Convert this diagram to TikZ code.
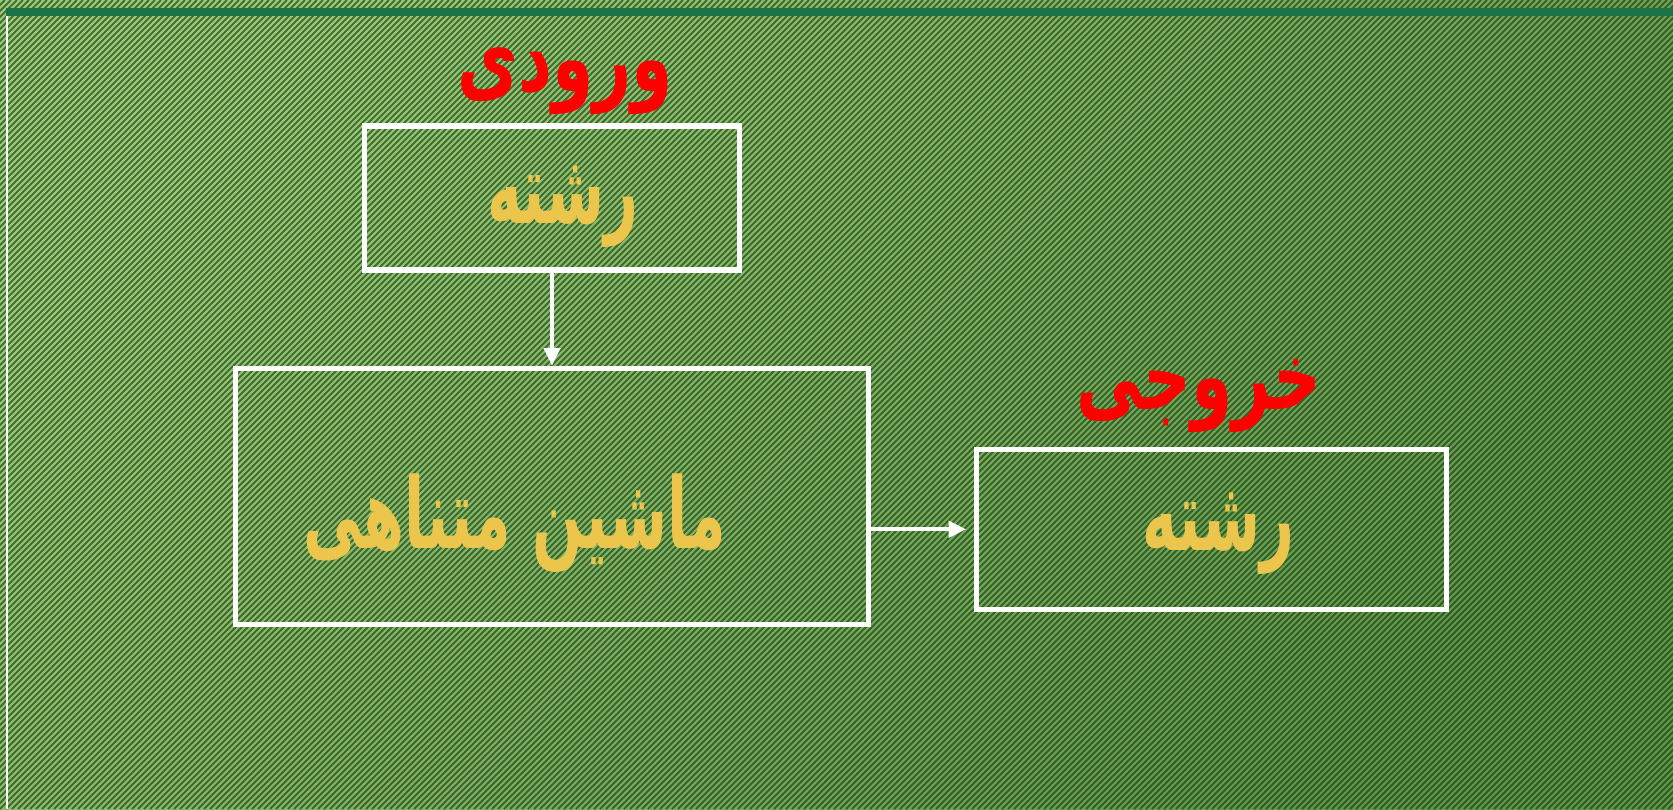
\documentclass[tikz,border=0pt]{standalone}
\usepackage{fontspec}
\newfontfamily\arabicfont[Script=Arabic, FakeStretch=0.7]{DejaVu Sans}
\newfontfamily\arabicnarrow[Script=Arabic, FakeStretch=0.6]{DejaVu Sans}
\TeXXeTstate=1
\usetikzlibrary{positioning,arrows.meta}

\definecolor{bglight}{HTML}{98CE74}
\definecolor{bgdark}{HTML}{5C9A46}
\definecolor{hatch}{HTML}{1A3014}
\definecolor{topbar}{HTML}{1B7347}
\definecolor{wordgold}{HTML}{EBC54C}
\definecolor{wordred}{HTML}{FF0000}

\begin{document}
\begin{tikzpicture}[
    x=0.1mm, y=-0.1mm,
    >={Triangle[length=5pt, width=4.6pt]},
    box/.style     = {rectangle, draw=white, line width=1.5pt, inner sep=0pt},
    word/.style    = {inner sep=0pt, text=wordgold,
                      font=\arabicnarrow\bfseries\fontsize{28}{32}\selectfont},
    caption/.style = {inner sep=0pt, text=wordred,
                      font=\arabicfont\bfseries\fontsize{27}{32}\selectfont},
    flow/.style    = {->, draw=white, line width=1.15pt}
]
\useasboundingbox (0,0) rectangle (1673,809);

% --- Background: shaded green with diagonal hatching -------------------------
\shade[top color=bglight, bottom color=bgdark, shading angle=45]
  (0,0) rectangle (1673,809);
\begin{scope}
  \clip (0,0) rectangle (1673,809);
  \foreach \i in {-810,-804,...,1680}
    \draw[hatch, line width=0.55pt, opacity=0.62] (\i,809) -- ++(809,-809);
\end{scope}
\fill[topbar] (6,8) rectangle (1673,16);
\fill[white]  (6,16) rectangle (8,809);

% --- Boxes ------------------------------------------------------------------
\node[box, minimum width=37.5mm, minimum height=14.4mm] (instr) at (552,198) {};
\node[box, minimum width=63.3mm, minimum height=25.6mm, below=9.3mm of instr]
  (machine) {};
\node[box, minimum width=47mm, minimum height=16mm,
      right=10.3mm of machine, yshift=-3.3mm] (outstr) {};

% --- Words inside the boxes -------------------------------------------------
\node[word, xshift=1.1mm,  yshift=-0.9mm] (instrword)   at (instr)
  {\beginR رشته\endR};
\node[word, xshift=-3.7mm, yshift=-2.7mm] (machineword) at (machine)
  {\beginR ماشین متناهی\endR};
\node[word, xshift=0.7mm,  yshift=-0.4mm] (outstrword)  at (outstr)
  {\beginR رشته\endR};

% --- Captions ---------------------------------------------------------------
\node[caption, above=0.8mm of instr, xshift=1.3mm]   (inlabel)
  {\beginR ورودی\endR};
\node[caption, above=1.3mm of outstr, xshift=-1.3mm] (outlabel)
  {\beginR خروجی\endR};

% --- Flows ------------------------------------------------------------------
\draw[flow] (instr.south) -- (machine.north);
\draw[flow] (machine.east |- outstr.west) -- ([xshift=-0.8mm]outstr.west);

\end{tikzpicture}
\end{document}
